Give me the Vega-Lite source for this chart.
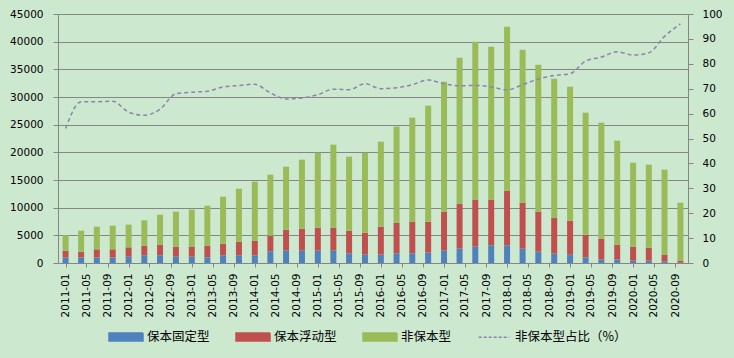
{
  "$schema": "https://vega.github.io/schema/vega-lite/v6.json",
  "autosize": "none",
  "width": 630,
  "height": 249,
  "padding": {"left": 58, "top": 14, "right": 46, "bottom": 95},
  "background": "#CCE8CF",
  "config": {
    "view": {"stroke": null},
    "axis": {
      "domainColor": "#868686",
      "tickColor": "#868686",
      "gridColor": "#868686",
      "gridOpacity": 1,
      "labelColor": "#000000",
      "labelFont": "DejaVu Sans",
      "labelFontSize": 10.5,
      "tickSize": 5,
      "title": null
    }
  },
  "data": {
    "values": [
      {"date": "2011-01-01", "保本固定型": 1000, "保本浮动型": 1230, "非保本型": 2770, "ratio": 54.0},
      {"date": "2011-04-01", "保本固定型": 1000, "保本浮动型": 1050, "非保本型": 3790, "ratio": 64.8},
      {"date": "2011-07-01", "保本固定型": 1000, "保本浮动型": 1470, "非保本型": 4100, "ratio": 64.8},
      {"date": "2011-10-01", "保本固定型": 1000, "保本浮动型": 1470, "非保本型": 4280, "ratio": 65.0},
      {"date": "2012-01-01", "保本固定型": 1140, "保本浮动型": 1690, "非保本型": 4100, "ratio": 60.6},
      {"date": "2012-04-01", "保本固定型": 1390, "保本浮动型": 1740, "非保本型": 4580, "ratio": 59.3},
      {"date": "2012-07-01", "保本固定型": 1390, "保本浮动型": 1920, "非保本型": 5420, "ratio": 61.8},
      {"date": "2012-10-01", "保本固定型": 1140, "保本浮动型": 1810, "非保本型": 6330, "ratio": 68.0},
      {"date": "2013-01-01", "保本固定型": 1140, "保本浮动型": 1810, "非保本型": 6690, "ratio": 68.6},
      {"date": "2013-04-01", "保本固定型": 1020, "保本浮动型": 2110, "非保本型": 7230, "ratio": 69.0},
      {"date": "2013-07-01", "保本固定型": 1390, "保本浮动型": 2100, "非保本型": 8500, "ratio": 70.7},
      {"date": "2013-10-01", "保本固定型": 1390, "保本浮动型": 2470, "非保本型": 9570, "ratio": 71.3},
      {"date": "2014-01-01", "保本固定型": 1390, "保本浮动型": 2650, "非保本型": 10660, "ratio": 71.8},
      {"date": "2014-04-01", "保本固定型": 2110, "保本浮动型": 2830, "非保本型": 11020, "ratio": 68.3},
      {"date": "2014-07-01", "保本固定型": 2230, "保本浮动型": 3790, "非保本型": 11390, "ratio": 65.9},
      {"date": "2014-10-01", "保本固定型": 2230, "保本浮动型": 3970, "非保本型": 12470, "ratio": 66.3},
      {"date": "2015-01-01", "保本固定型": 2230, "保本浮动型": 4160, "非保本型": 13550, "ratio": 67.6},
      {"date": "2015-04-01", "保本固定型": 2230, "保本浮动型": 4160, "非保本型": 15000, "ratio": 69.8},
      {"date": "2015-07-01", "保本固定型": 1750, "保本浮动型": 4090, "非保本型": 13380, "ratio": 69.6},
      {"date": "2015-10-01", "保本固定型": 1510, "保本浮动型": 3970, "非保本型": 14460, "ratio": 72.0},
      {"date": "2016-01-01", "保本固定型": 1510, "保本浮动型": 5060, "非保本型": 15360, "ratio": 70.0},
      {"date": "2016-04-01", "保本固定型": 1750, "保本浮动型": 5540, "非保本型": 17350, "ratio": 70.4},
      {"date": "2016-07-01", "保本固定型": 1750, "保本浮动型": 5720, "非保本型": 18800, "ratio": 71.6},
      {"date": "2016-10-01", "保本固定型": 1870, "保本浮动型": 5600, "非保本型": 20960, "ratio": 73.5},
      {"date": "2017-01-01", "保本固定型": 2230, "保本浮动型": 7050, "非保本型": 23490, "ratio": 72.0},
      {"date": "2017-04-01", "保本固定型": 2590, "保本浮动型": 8130, "非保本型": 26380, "ratio": 71.2},
      {"date": "2017-07-01", "保本固定型": 2950, "保本浮动型": 8500, "非保本型": 28550, "ratio": 71.3},
      {"date": "2017-10-01", "保本固定型": 3190, "保本浮动型": 8260, "非保本型": 27650, "ratio": 70.7},
      {"date": "2018-01-01", "保本固定型": 3190, "保本浮动型": 9880, "非保本型": 29640, "ratio": 69.5},
      {"date": "2018-04-01", "保本固定型": 2590, "保本浮动型": 8310, "非保本型": 27650, "ratio": 71.6},
      {"date": "2018-07-01", "保本固定型": 2050, "保本浮动型": 7230, "非保本型": 26560, "ratio": 73.9},
      {"date": "2018-10-01", "保本固定型": 1690, "保本浮动型": 6500, "非保本型": 25120, "ratio": 75.3},
      {"date": "2019-01-01", "保本固定型": 1510, "保本浮动型": 6140, "非保本型": 24220, "ratio": 76.0},
      {"date": "2019-04-01", "保本固定型": 1020, "保本浮动型": 4100, "非保本型": 22050, "ratio": 81.1},
      {"date": "2019-07-01", "保本固定型": 660, "保本浮动型": 3740, "非保本型": 20960, "ratio": 82.7},
      {"date": "2019-10-01", "保本固定型": 660, "保本浮动型": 2650, "非保本型": 18800, "ratio": 84.8},
      {"date": "2020-01-01", "保本固定型": 420, "保本浮动型": 2530, "非保本型": 15180, "ratio": 83.5},
      {"date": "2020-04-01", "保本固定型": 420, "保本浮动型": 2350, "非保本型": 15000, "ratio": 84.4},
      {"date": "2020-07-01", "保本固定型": 300, "保本浮动型": 1210, "非保本型": 15360, "ratio": 91.0},
      {"date": "2020-10-01", "保本固定型": 60, "保本浮动型": 360, "非保本型": 10480, "ratio": 96.0}
    ]
  },
  "layer": [
    {
      "transform": [{"fold": ["保本固定型", "保本浮动型", "非保本型"], "as": ["type", "value"]}],
      "mark": {"type": "bar", "size": 6},
      "encoding": {
        "x": {
          "field": "date",
          "type": "temporal",
          "scale": {
            "type": "utc",
            "domain": [
              {"year": 2010, "month": 12, "date": 17, "utc": true},
              {"year": 2020, "month": 10, "date": 16, "utc": true}
            ]
          },
          "axis": {
            "format": "%Y-%m",
            "tickCount": {"interval": "month", "step": 4},
            "labelAngle": 270,
            "labelOverlap": false,
            "labelFlush": false,
            "labelPadding": 6,
            "tickSize": 4,
            "grid": false
          }
        },
        "y": {
          "field": "value",
          "type": "quantitative",
          "stack": "zero",
          "scale": {"domain": [0, 45000], "nice": false},
          "axis": {
            "values": [0, 5000, 10000, 15000, 20000, 25000, 30000, 35000, 40000, 45000],
            "grid": true,
            "labelPadding": 10,
            "format": "d"
          }
        },
        "color": {
          "field": "type",
          "type": "nominal",
          "scale": {
            "domain": ["保本固定型", "保本浮动型", "非保本型", "非保本型占比（%）"],
            "range": ["#4F81BD", "#C0504D", "#9BBB59", "#8C84AC"]
          },
          "legend": {
            "orient": "none",
            "legendX": 50,
            "legendY": 305,
            "direction": "horizontal",
            "title": null,
            "padding": 0,
            "symbolType": "M-1,-0.235H1V0.235H-1Z",
            "symbolSize": 1156,
            "symbolStrokeWidth": 1.5,
            "labelFont": "Noto Sans CJK SC",
            "labelFontSize": 12.5,
            "labelColor": "#000000",
            "columnPadding": 23,
            "labelOffset": 3,
            "encode": {
              "symbols": {
                "update": {
                  "shape": {"signal": "datum.value === '非保本型占比（%）' ? 'M-0.9,0H0.9' : 'M-1,-0.235H1V0.235H-1Z'"},
                  "fill": {"signal": "datum.value === '非保本型占比（%）' ? 'transparent' : scale('color', datum.value)"},
                  "stroke": {"signal": "datum.value === '非保本型占比（%）' ? scale('color', datum.value) : 'transparent'"},
                  "strokeDash": {"signal": "datum.value === '非保本型占比（%）' ? [3, 2] : [1, 0]"},
                  "opacity": {"value": 1}
                }
              }
            }
          }
        },
        "order": {"field": "type", "sort": "ascending"}
      }
    },
    {
      "mark": {"type": "line", "interpolate": "monotone", "strokeDash": [4, 3], "strokeWidth": 1.5},
      "encoding": {
        "x": {"field": "date", "type": "temporal"},
        "y": {
          "field": "ratio",
          "type": "quantitative",
          "scale": {"domain": [0, 100], "nice": false},
          "axis": {
            "orient": "right",
            "values": [0, 10, 20, 30, 40, 50, 60, 70, 80, 90, 100],
            "grid": false,
            "labelPadding": 9
          }
        },
        "color": {"datum": "非保本型占比（%）"}
      }
    }
  ],
  "resolve": {"scale": {"y": "independent"}}
}
